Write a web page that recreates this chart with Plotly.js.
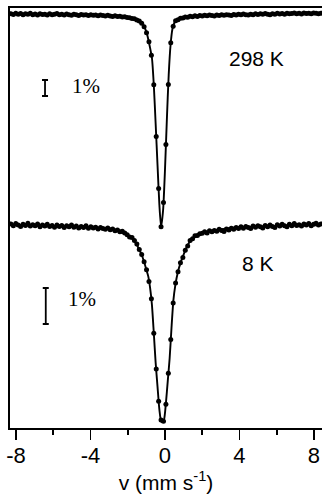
<!DOCTYPE html>
<html>
<head>
<meta charset="utf-8">
<script src="https://cdn.plot.ly/plotly-3.0.1.min.js"></script>
<style>
  html, body { margin: 0; padding: 0; background: #fff; }
  #chart { width: 322px; height: 500px; }
</style>
</head>
<body>
<div id="chart"></div>
<script>
// Mössbauer spectra: relative transmission (%) versus source velocity (mm/s)

// channel velocities (mm/s)
const velocity = [
  -8.27, -8.14, -8.01, -7.88, -7.75, -7.62, -7.49, -7.36, -7.23, -7.10,
  -6.97, -6.84, -6.71, -6.58, -6.45, -6.32, -6.19, -6.06, -5.93, -5.80,
  -5.67, -5.54, -5.41, -5.28, -5.15, -5.02, -4.89, -4.76, -4.63, -4.50,
  -4.37, -4.24, -4.11, -3.98, -3.85, -3.72, -3.59, -3.46, -3.33, -3.20,
  -3.07, -2.94, -2.81, -2.68, -2.55, -2.42, -2.29, -2.16, -2.03, -1.90,
  -1.77, -1.64, -1.51, -1.38, -1.25, -1.12, -0.99, -0.86, -0.73, -0.60,
  -0.47, -0.34, -0.21, -0.08, 0.05, 0.18, 0.31, 0.44, 0.57, 0.70,
  0.83, 0.96, 1.09, 1.22, 1.35, 1.48, 1.61, 1.74, 1.87, 2.00,
  2.13, 2.26, 2.39, 2.52, 2.65, 2.78, 2.91, 3.04, 3.17, 3.30,
  3.43, 3.56, 3.69, 3.82, 3.95, 4.08, 4.21, 4.34, 4.47, 4.60,
  4.73, 4.86, 4.99, 5.12, 5.25, 5.38, 5.51, 5.64, 5.77, 5.90,
  6.03, 6.16, 6.29, 6.42, 6.55, 6.68, 6.81, 6.94, 7.07, 7.20,
  7.33, 7.46, 7.59, 7.72, 7.85, 7.98, 8.11, 8.24, 8.37
];

// measured transmission at 298 K (%)
const trans298 = [
  100.02, 99.97, 100.05, 99.99, 100.03, 99.95, 100.01, 99.98, 100.04, 99.96,
  100.00, 99.94, 100.02, 99.97, 99.99, 99.93, 100.01, 99.96, 99.98, 100.03,
  99.95, 99.99, 99.94, 100.00, 99.96, 99.92, 99.98, 99.95, 99.91, 99.97,
  99.93, 99.96, 99.90, 99.95, 99.92, 99.94, 99.89, 99.93, 99.90, 99.87,
  99.92, 99.88, 99.85, 99.89, 99.84, 99.86, 99.81, 99.83, 99.78, 99.76,
  99.72, 99.71, 99.63, 99.57, 99.42, 99.20, 98.83, 98.27, 97.42, 95.58,
  92.35, 89.10, 86.70, 88.22, 91.85, 95.60, 98.20, 99.23, 99.58, 99.64,
  99.73, 99.75, 99.82, 99.79, 99.86, 99.83, 99.89, 99.85, 99.90, 99.87,
  99.92, 99.89, 99.93, 99.90, 99.88, 99.94, 99.91, 99.95, 99.92, 99.96,
  99.93, 99.90, 99.97, 99.94, 99.98, 99.95, 100.00, 99.96, 99.93, 99.99,
  99.96, 100.01, 99.97, 100.02, 99.98, 100.03, 99.99, 99.96, 100.02, 99.98,
  100.04, 100.00, 100.03, 99.99, 100.05, 100.01, 100.03, 100.06, 100.02, 100.04,
  100.00, 100.06, 100.03, 100.05, 100.01, 100.06, 100.04, 100.02, 100.05
];

// measured transmission at 8 K (%)
const trans8 = [
  100.03, 99.98, 100.04, 100.00, 99.96, 100.02, 99.99, 100.05, 99.97, 100.01,
  99.98, 100.03, 99.95, 100.00, 99.97, 100.02, 99.96, 99.99, 99.94, 100.00,
  99.96, 99.99, 99.93, 99.98, 99.95, 100.00, 99.94, 99.97, 99.92, 99.96,
  99.93, 99.98, 99.91, 99.95, 99.92, 99.94, 99.89, 99.93, 99.90, 99.88,
  99.92, 99.87, 99.89, 99.84, 99.86, 99.81, 99.83, 99.78, 99.73, 99.67,
  99.65, 99.57, 99.47, 99.32, 99.18, 98.98, 98.76, 98.43, 97.95, 96.99,
  96.00, 95.10, 94.58, 94.55, 95.02, 95.88, 96.82, 97.83, 98.39, 98.70,
  98.95, 99.10, 99.30, 99.42, 99.57, 99.62, 99.70, 99.71, 99.76, 99.77,
  99.81, 99.78, 99.84, 99.81, 99.85, 99.83, 99.88, 99.85, 99.82, 99.89,
  99.86, 99.91, 99.88, 99.93, 99.90, 99.95, 99.91, 99.96, 99.93, 99.90,
  99.97, 99.94, 99.98, 99.95, 99.92, 99.99, 99.95, 100.00, 99.96, 99.93,
  100.01, 99.97, 100.02, 99.98, 99.95, 100.02, 99.98, 100.04, 99.99, 100.01,
  99.97, 100.03, 100.00, 100.04, 99.98, 100.02, 100.05, 100.00, 100.03
];

// fitted line, 298 K
const fitVelocity298 = [
  -8.32, -6, -4, -3, -2, -1.5, -1.2, -1.0, -0.9, -0.8, -0.7, -0.6, -0.5, -0.4,
  -0.3, -0.21, -0.1, 0, 0.1, 0.2, 0.3, 0.4, 0.5, 0.6, 0.8, 1.0, 1.5, 2, 3, 4, 6, 8.43
];
const fit298 = [
  100.00, 99.98, 99.94, 99.90, 99.81, 99.66, 99.38, 98.88, 98.44, 97.88, 97.25, 95.56, 93.13, 90.56,
  88.06, 86.69, 87.75, 90.25, 93.38, 96.19, 98.06, 99.06, 99.44, 99.59, 99.72, 99.78, 99.88, 99.91, 99.94, 99.97, 100.00, 100.03
];

// fitted line, 8 K
const fitVelocity8 = [
  -8.32, -6, -4, -3, -2.5, -2, -1.75, -1.5, -1.25, -1.1, -1.0, -0.9, -0.8, -0.7, -0.6,
  -0.5, -0.4, -0.3, -0.2, -0.13, -0.05, 0.05, 0.15, 0.25, 0.35, 0.45, 0.55, 0.7, 0.85,
  1.0, 1.25, 1.5, 1.75, 2.0, 2.5, 3, 4, 6, 8.43
];
const fit8 = [
  100.00, 99.96, 99.93, 99.90, 99.82, 99.72, 99.64, 99.44, 99.17, 98.94, 98.76, 98.58, 98.26, 97.78, 97.00,
  96.17, 95.51, 94.87, 94.54, 94.53, 94.59, 95.05, 95.67, 96.29, 97.14, 97.90, 98.31, 98.71, 98.97,
  99.18, 99.47, 99.64, 99.72, 99.78, 99.83, 99.88, 99.94, 99.97, 100.00
];

// axis ticks
const tickVals = [-8, -4, 0, 4, 8];
const tickText = ['-8', '-4', '0', '4', '8'];
const minorTickVals = [-6, -2, 2, 6];

// temperature labels and 1 % scale bars
const tempLabels = ['298 K', '8 K'];
const scaleBarPct = 1;
const scaleBarText = '1%';

const sans = 'Liberation Sans, Arial, Helvetica, sans-serif';
const serif = 'Liberation Serif, Times New Roman, serif';

const dots = (x, y, yaxis) => ({
  x, y, yaxis, type: 'scatter', mode: 'markers',
  marker: { color: '#000', size: 5, symbol: 'circle' },
  hoverinfo: 'skip'
});
const line = (x, y, yaxis) => ({
  x, y, yaxis, type: 'scatter', mode: 'lines',
  line: { color: '#000', width: 1.9, shape: 'spline', smoothing: 0.6 },
  hoverinfo: 'skip'
});
const bar = (x, y, yaxis) => ({
  x: [x], y: [y], yaxis, type: 'scatter', mode: 'markers',
  marker: { size: 0.1, color: 'rgba(0,0,0,0)' },
  error_y: { type: 'constant', value: scaleBarPct / 2, width: 3, thickness: 1.8, color: '#000' },
  hoverinfo: 'skip'
});

const traces = [
  dots(velocity, trans298, 'y'),
  line(fitVelocity298, fit298, 'y'),
  dots(velocity, trans8, 'y2'),
  line(fitVelocity8, fit8, 'y2'),
  bar(-6.44, 95.375, 'y'),
  bar(-6.4, 97.75, 'y2')
];

const layout = {
  width: 322,
  height: 500,
  margin: { l: 10, r: 0, t: 8, b: 72 },
  paper_bgcolor: '#fff',
  plot_bgcolor: '#fff',
  showlegend: false,
  xaxis: {
    range: [-8.32, 8.43],
    showline: true, linewidth: 2, linecolor: '#000', mirror: true,
    showgrid: false, zeroline: false,
    ticks: 'outside', ticklen: 10, tickwidth: 1.6, tickcolor: '#000',
    tickmode: 'array', tickvals: tickVals, ticktext: tickText,
    ticklabelstandoff: -3,
    tickfont: { family: sans, size: 22, color: '#000' },
    minor: { tickmode: 'array', tickvals: minorTickVals, ticks: 'outside', ticklen: 5, tickwidth: 1.6, tickcolor: '#000' },
    title: { text: 'v (mm s<sup>-1</sup>)', font: { family: sans, size: 21, color: '#000' }, standoff: 4 }
  },
  yaxis: {
    range: [74.125, 100.375],
    showline: true, linewidth: 2, linecolor: '#000', mirror: false,
    showgrid: false, zeroline: false, ticks: '', showticklabels: false
  },
  yaxis2: {
    range: [94.36, 106.03],
    overlaying: 'y', visible: false
  },
  annotations: [
    { text: tempLabels[0], x: 4.89, y: 97.25, xref: 'x', yref: 'y', showarrow: false,
      font: { family: sans, size: 21, color: '#000' } },
    { text: tempLabels[1], x: 5.02, y: 98.94, xref: 'x', yref: 'y2', showarrow: false,
      font: { family: sans, size: 21, color: '#000' } },
    { text: scaleBarText, x: -4.24, y: 95.5, xref: 'x', yref: 'y', showarrow: false,
      font: { family: serif, size: 21, color: '#000' } },
    { text: scaleBarText, x: -4.46, y: 97.94, xref: 'x', yref: 'y2', showarrow: false,
      font: { family: serif, size: 21, color: '#000' } }
  ]
};

Plotly.newPlot('chart', traces, layout, { staticPlot: true, displayModeBar: false });
</script>
</body>
</html>
